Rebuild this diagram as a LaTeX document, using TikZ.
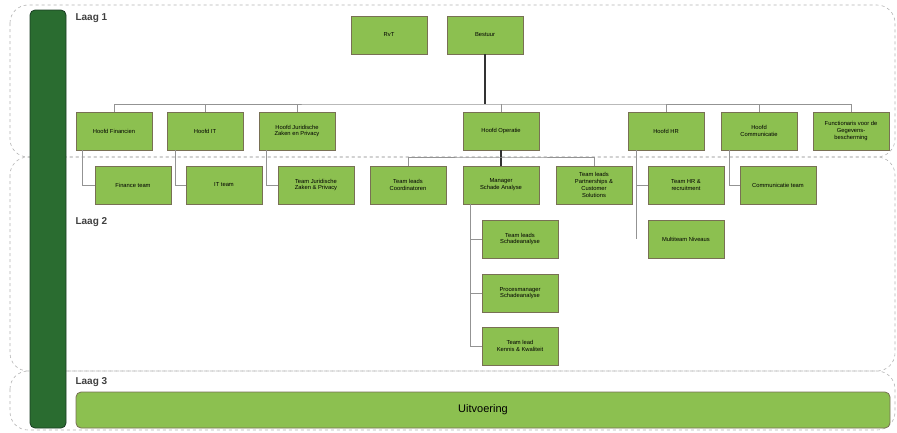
\documentclass[tikz,border=0pt]{standalone}
\usepackage{fontspec}
\setmainfont{Liberation Sans}
\usetikzlibrary{positioning}
\definecolor{boxgreen}{RGB}{140,192,80}
\definecolor{boxedge}{RGB}{120,112,84}
\definecolor{bargreen}{RGB}{42,108,48}
\definecolor{baredge}{RGB}{25,60,35}

\begin{document}
\begin{tikzpicture}[x=1pt,y=-1pt,
    unit/.style={draw=boxedge,fill=boxgreen,line width=0.8pt,minimum width=76pt,minimum height=38pt,
      inner sep=1pt,align=center,font=\fontsize{5.8}{6.8}\selectfont},
    layer/.style={draw=gray!60,dashed,line width=0.6pt,rounded corners=18pt},
    link/.style={draw=gray!85,line width=0.5pt},
    mainlink/.style={draw=black!80,line width=1.5pt},
    laag/.style={anchor=west,font=\bfseries\fontsize{10}{12}\selectfont,text=black!75}]
    \useasboundingbox (0,0) rectangle (897,432);

    % lagen
    \draw[layer] (10,5) rectangle (895,157);
    \draw[layer] (10,157) rectangle (895,371);
    \draw[layer] (10,371) rectangle (895,430);
    \draw[fill=bargreen,draw=baredge,line width=0.8pt,rounded corners=5pt] (30,10) rectangle (66,428);

    \node[laag] (laag1) at (72,18) {Laag 1};
    \node[laag] (laag2) at (72,222) {Laag 2};
    \node[laag] (laag3) at (72,382) {Laag 3};

    % laag 1
    \node[unit] (rvt) at (389,35) {RvT};
    \node[unit] (bestuur) at (485,35) {Bestuur};

    \node[unit] (hfin) at (114,131) {Hoofd Financien};
    \node[unit] (hit) at (205,131) {Hoofd IT};
    \node[unit] (hjur) at (297,131) {Hoofd Juridische\\Zaken en Privacy};
    \node[unit] (hop) at (501,131) {Hoofd Operatie};
    \node[unit] (hhr) at (666,131) {Hoofd HR};
    \node[unit] (hcom) at (759,131) {Hoofd\\Communicatie};
    \node[unit] (hgeg) at (851,131) {Functionaris voor de\\Gegevens-\\bescherming};

    \coordinate (bus) at (485,104);
    \draw[mainlink] (bestuur) -- (bus);
    \draw[link] (hfin.north) |- (bus) -| (hgeg.north);
    \foreach \n in {hit,hjur,hop,hhr,hcom}
        \draw[link] (\n.north) -- (\n.north |- bus);

    % laag 2
    \node[unit] (finteam) at (133,185) {Finance team};
    \node[unit] (itteam) at (224,185) {IT team};
    \node[unit] (jurteam) at (316,185) {Team Juridische\\Zaken \& Privacy};
    \node[unit] (tlcoord) at (408,185) {Team leads\\Coordinatoren};
    \node[unit] (mgr) at (501,185) {Manager\\Schade Analyse};
    \node[unit] (tlpart) at (594,185) {Team leads\\Partnerships \&\\Customer\\Solutions};
    \node[unit] (hrteam) at (686,185) {Team HR \&\\recruitment};
    \node[unit] (comteam) at (778,185) {Communicatie team};
    \node[unit] (multi) at (686,239) {Multiteam Niveaus};

    \node[unit] (tlschade) at (520,239) {Team leads\\Schadeanalyse};
    \node[unit] (procman) at (520,293) {Procesmanager\\Schadeanalyse};
    \node[unit] (tlkennis) at (520,346) {Team lead\\Kennis \& Kwaliteit};

    \draw[link] ([xshift=-32pt]hfin.south) |- (finteam);
    \draw[link] ([xshift=-30pt]hit.south) |- (itteam);
    \draw[link] ([xshift=-31pt]hjur.south) |- (jurteam);
    \draw[link] ([xshift=-30pt]hcom.south) |- (comteam);
    \draw[link] ([xshift=-30pt]hhr.south) |- (hrteam);
    \draw[link] ([xshift=-30pt]hhr.south) -- ([xshift=-30pt]hhr.south |- multi);

    \coordinate (opbus) at (501,157);
    \draw[mainlink] (hop) -- (mgr);
    \draw[link] (tlcoord.north) |- (opbus) -| (tlpart.north);

    \draw[link] ([xshift=-31pt]mgr.south) |- (tlkennis);
    \draw[link] ([xshift=-31pt]mgr.south |- tlschade) -- (tlschade);
    \draw[link] ([xshift=-31pt]mgr.south |- procman) -- (procman);

    % laag 3
    \node[unit,rounded corners=5pt,minimum width=814pt,minimum height=36pt,
        font=\fontsize{11}{13}\selectfont] (uitvoering) at (483,410) {Uitvoering};
\end{tikzpicture}
\end{document}
